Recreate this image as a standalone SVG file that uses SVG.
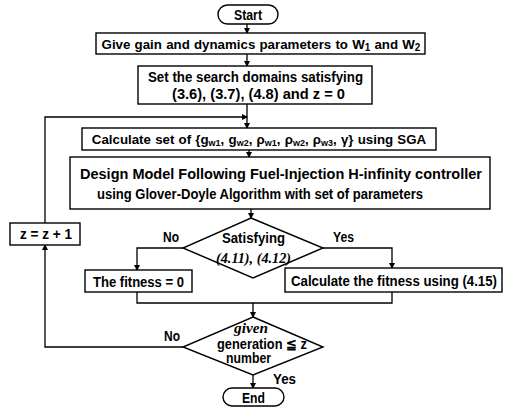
<svg xmlns="http://www.w3.org/2000/svg" width="510" height="411" viewBox="0 0 510 411">
<style>
.b{fill:#fff;stroke:#000;stroke-width:1.4}
.t{font-family:"Liberation Sans",Arial,sans-serif;font-weight:bold;font-size:14px;fill:#000}
.c{text-anchor:middle}
.s{font-size:13.3px}
.i{font-family:"Liberation Serif","Times New Roman",serif;font-style:italic;font-weight:bold;font-size:14px}
.l{fill:none;stroke:#000;stroke-width:1.3}
</style>
<defs>
<marker id="a" markerWidth="6" markerHeight="6" refX="5" refY="3" orient="auto" markerUnits="userSpaceOnUse">
<path d="M0,0 L6,3 L0,6 Z" fill="#000"/>
</marker>
</defs>
<g id="connectors">
<path class="l" d="M247,24 V33" marker-end="url(#a)"/>
<path class="l" d="M247,54 V66" marker-end="url(#a)"/>
<path class="l" d="M247,104 V128" marker-end="url(#a)"/>
<path class="l" d="M249,150 V157" marker-end="url(#a)"/>
<path class="l" d="M251,209 V218" marker-end="url(#a)"/>
<path class="l" d="M183,248 H137 V270" marker-end="url(#a)"/>
<path class="l" d="M323,248 H392 V268" marker-end="url(#a)"/>
<path class="l" d="M137,292 V303 H392 V292"/>
<path class="l" d="M253,303 V317" marker-end="url(#a)"/>
<path class="l" d="M183,347 H45 V245" marker-end="url(#a)"/>
<path class="l" d="M45,223 V117 H247" marker-end="url(#a)"/>
<path class="l" d="M253,375 V388" marker-end="url(#a)"/>
<text class="t" x="163" y="242" textLength="16" lengthAdjust="spacingAndGlyphs">No</text>
<text class="t" x="333" y="242" textLength="21" lengthAdjust="spacingAndGlyphs">Yes</text>
<text class="t" x="164" y="341" textLength="16" lengthAdjust="spacingAndGlyphs">No</text>
<text class="t" x="273" y="384" textLength="23" lengthAdjust="spacingAndGlyphs">Yes</text>
</g>
<g id="start">
<rect class="b" x="218" y="5" width="60" height="19" rx="9.5"/>
<text class="t" x="234" y="19.5" textLength="28" lengthAdjust="spacingAndGlyphs">Start</text>
</g>
<g id="give">
<rect class="b" x="96" y="33" width="329" height="21"/>
<text class="t s c" x="261" y="48.5" word-spacing="0.5">Give gain and dynamics parameters to W<tspan font-size="10" dy="2">1</tspan><tspan dy="-2"> and W</tspan><tspan font-size="10" dy="2">2</tspan></text>
</g>
<g id="setdomain">
<rect class="b" x="138" y="66" width="234" height="38"/>
<text class="t" x="148" y="81.5" textLength="215" lengthAdjust="spacingAndGlyphs">Set the search domains satisfying</text>
<text class="t" x="172" y="98.5" textLength="173" lengthAdjust="spacingAndGlyphs">(3.6), (3.7), (4.8) and z = 0</text>
</g>
<g id="calcset">
<rect class="b" x="82" y="128" width="354" height="22"/>
<text class="t s c" x="259" y="144" word-spacing="0.5">Calculate set of {g<tspan font-size="9" dy="2">w1</tspan><tspan dy="-2">, g</tspan><tspan font-size="9" dy="2">w2</tspan><tspan dy="-2">, ρ</tspan><tspan font-size="9" dy="2">w1</tspan><tspan dy="-2">, ρ</tspan><tspan font-size="9" dy="2">w2</tspan><tspan dy="-2">, ρ</tspan><tspan font-size="9" dy="2">w3</tspan><tspan dy="-2">, γ} using SGA</tspan></text>
</g>
<g id="design">
<rect class="b" x="70" y="157" width="420" height="52"/>
<text class="t" x="80" y="178.5" textLength="402" lengthAdjust="spacingAndGlyphs">Design Model Following Fuel-Injection H-infinity controller</text>
<text class="t" x="97" y="198.5" textLength="326" lengthAdjust="spacingAndGlyphs">using Glover-Doyle Algorithm with set of parameters</text>
</g>
<g id="satisfying">
<polygon class="b" points="251,218 323,248 253,278 183,248"/>
<text class="t" x="222" y="243" textLength="63" lengthAdjust="spacingAndGlyphs">Satisfying</text>
<text class="t i" x="216" y="263" textLength="75" lengthAdjust="spacingAndGlyphs">(4.11), (4.12)</text>
</g>
<g id="zinc">
<rect class="b" x="10" y="223" width="70" height="22"/>
<text class="t" x="20" y="239" textLength="52" lengthAdjust="spacingAndGlyphs">z = z + 1</text>
</g>
<g id="fitness0">
<rect class="b" x="85" y="270" width="107" height="22"/>
<text class="t" x="93" y="286.5" textLength="91" lengthAdjust="spacingAndGlyphs">The fitness = 0</text>
</g>
<g id="calcfitness">
<rect class="b" x="285" y="268" width="217" height="24"/>
<text class="t" x="291" y="285.5" textLength="206" lengthAdjust="spacingAndGlyphs">Calculate the fitness using (4.15)</text>
</g>
<g id="generation">
<polygon class="b" points="253,317 323,347 253,375 183,347"/>
<text class="t i" x="234" y="333" textLength="34" lengthAdjust="spacingAndGlyphs">given</text>
<text class="t" x="217" y="348.5" textLength="90" lengthAdjust="spacingAndGlyphs">generation ≦ z</text>
<text class="t" x="226" y="363" textLength="45" lengthAdjust="spacingAndGlyphs">number</text>
</g>
<g id="end">
<rect class="b" x="223" y="388" width="61" height="18" rx="9"/>
<text class="t" x="242" y="402.5" textLength="23" lengthAdjust="spacingAndGlyphs">End</text>
</g>
</svg>
